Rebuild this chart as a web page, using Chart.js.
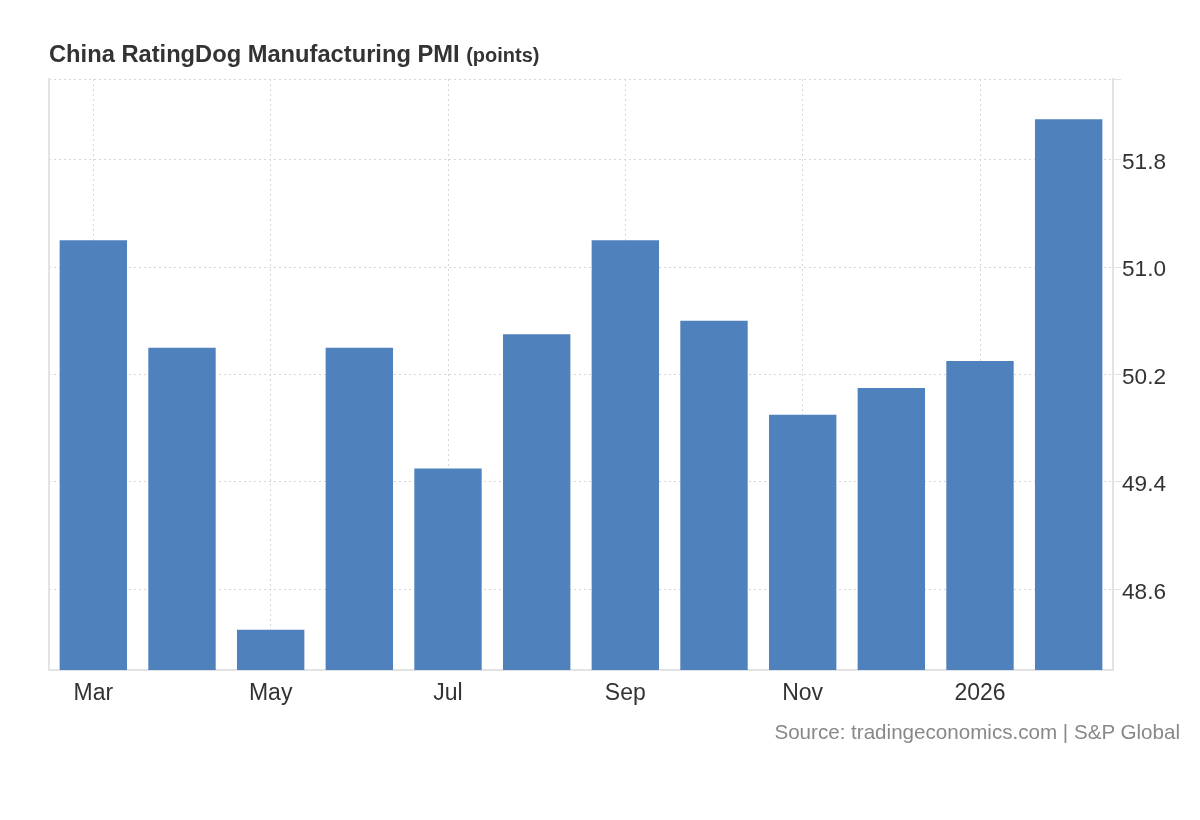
<!DOCTYPE html>
<html>
<head>
<meta charset="utf-8">
<script src="https://cdn.jsdelivr.net/npm/chart.js@4.4.1/dist/chart.umd.min.js"></script>
<style>
  body { margin: 0; background: #fff; }
  #wrap { position: relative; width: 1200px; height: 820px; font-family: "Liberation Sans", Arial, sans-serif; }
  #title { position: absolute; left: 49px; top: 42px; line-height: 24px; font-size: 23.7px; font-weight: bold; color: #333; white-space: nowrap; }
  #title span { font-size: 20px; }
  #source { position: absolute; right: 20px; top: 722px; line-height: 20px; font-size: 20.6px; color: #888; white-space: nowrap; }
  canvas { position: absolute; left: 0; top: 0; }
</style>
</head>
<body>
<div id="wrap">
  <canvas id="pmiChart" width="1200" height="820"></canvas>
  <div id="title">China RatingDog Manufacturing PMI <span>(points)</span></div>
  <div id="source">Source: tradingeconomics.com | S&amp;P Global</div>
</div>
<script>
// months Mar 2025 .. Feb 2026
const months = ['Mar', 'Apr', 'May', 'Jun', 'Jul', 'Aug', 'Sep', 'Oct', 'Nov', 'Dec', '2026', 'Feb'];
const pmiValues = [51.2, 50.4, 48.3, 50.4, 49.5, 50.5, 51.2, 50.6, 49.9, 50.1, 50.3, 52.1];
const yTicks = [48.6, 49.4, 50.2, 51.0, 51.8, 52.4];
const yMin = 48.0;
const yMax = 52.4;

const FONT = '"Liberation Sans", Arial, sans-serif';
const GRID = '#d6d6d6';
const AXIS = '#e3e3e3';

const ctx = document.getElementById('pmiChart').getContext('2d');

const pmiChart = new Chart(ctx, {
  type: 'bar',
  data: {
    labels: months,
    datasets: [{
      label: 'PMI',
      data: pmiValues,
      backgroundColor: '#4f81bd',
      borderWidth: 0,
      barPercentage: 0.76,
      categoryPercentage: 1.0,
    }],
  },
  options: {
    responsive: false,
    animation: false,
    devicePixelRatio: 1,
    layout: { padding: { left: 49, top: 79, right: 0, bottom: 0 } },
    plugins: {
      legend: { display: false },
      tooltip: { enabled: false },
    },
    scales: {
      x: {
        grid: {
          offset: false,
          drawTicks: false,
          color: (c) => (c.index % 2 === 0 ? GRID : 'rgba(0,0,0,0)'),
          lineWidth: 1,
        },
        border: { display: true, color: AXIS, width: 2, dash: [2, 3] },
        ticks: {
          autoSkip: false,
          maxRotation: 0,
          padding: 10,
          color: '#333',
          font: { family: FONT, size: 23 },
          callback: function (val, index) {
            return index % 2 === 0 ? this.getLabelForValue(val) : '';
          },
        },
        afterFit: (scale) => { scale.height = 150; },
      },
      y: {
        position: 'right',
        min: yMin,
        max: yMax,
        afterBuildTicks: (scale) => {
          scale.ticks = yTicks.map((v) => ({ value: v }));
        },
        grid: {
          color: GRID,
          lineWidth: 1,
          tickLength: 8,
          tickColor: AXIS,
          tickBorderDash: [],
        },
        border: { display: true, color: AXIS, width: 2, dash: [2, 3] },
        ticks: {
          padding: 1,
          labelOffset: 3,
          color: '#333',
          font: { family: FONT, size: 22.6 },
          callback: (v, i) => (i === yTicks.length - 1 ? '' : v.toFixed(1)),
        },
        afterFit: (scale) => { scale.width = 87; },
      },
      yLeft: {
        type: 'linear',
        position: 'left',
        min: yMin,
        max: yMax,
        grid: { drawOnChartArea: false, drawTicks: false },
        border: { display: true, color: AXIS, width: 2 },
        ticks: { display: false },
        afterFit: (scale) => { scale.width = 0; },
      },
    },
  },
});
</script>
</body>
</html>
